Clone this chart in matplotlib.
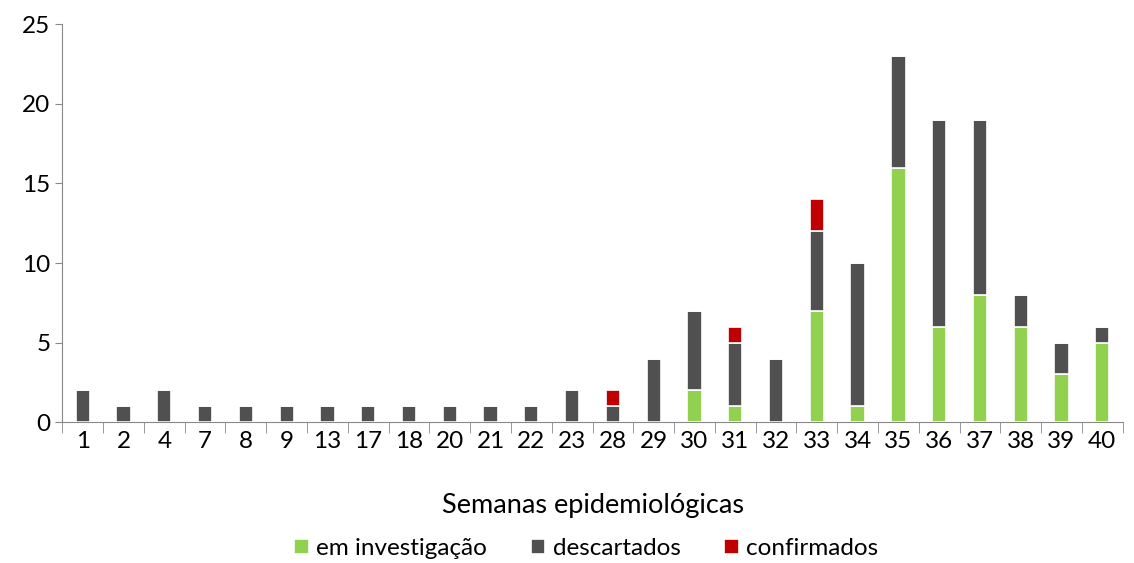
import matplotlib.pyplot as plt
import numpy as np

plt.rcParams['font.family'] = ['Lato', 'DejaVu Sans']

semanas = ['1', '2', '4', '7', '8', '9', '13', '17', '18', '20', '21', '22', '23',
           '28', '29', '30', '31', '32', '33', '34', '35', '36', '37', '38', '39', '40']
em_investigacao = [0, 0, 0, 0, 0, 0, 0, 0, 0, 0, 0, 0, 0,
                   0, 0, 2, 1, 0, 7, 1, 16, 6, 8, 6, 3, 5]
descartados = [2, 1, 2, 1, 1, 1, 1, 1, 1, 1, 1, 1, 2,
               1, 4, 5, 4, 4, 5, 9, 7, 13, 11, 2, 2, 1]
confirmados = [0, 0, 0, 0, 0, 0, 0, 0, 0, 0, 0, 0, 0,
               1, 0, 0, 1, 0, 2, 0, 0, 0, 0, 0, 0, 0]

verde = '#92D050'
cinza = '#505050'
vermelho = '#C00000'

fig, ax = plt.subplots(figsize=(11.34, 5.63), dpi=100)
fig.subplots_adjust(left=0.055, right=0.99, top=0.957, bottom=0.25)

x = np.arange(len(semanas))
w = 0.35
inv = np.array(em_investigacao)
desc = np.array(descartados)
conf = np.array(confirmados)

ax.bar(x, inv, w, color=verde, edgecolor='white', linewidth=1.2, label='em investigação')
ax.bar(x, desc, w, bottom=inv, color=cinza, edgecolor='white', linewidth=1.2, label='descartados')
ax.bar(x, conf, w, bottom=inv + desc, color=vermelho, edgecolor='white', linewidth=1.2, label='confirmados')

ax.set_xlim(-0.5, len(semanas) - 0.5)
ax.set_ylim(0, 25)
ax.set_yticks(range(0, 26, 5))
ax.set_xticks(x)
ax.set_xticklabels(semanas)
ax.set_xticks(np.arange(-0.5, len(semanas)), minor=True)
ax.tick_params(axis='x', which='major', length=0, pad=6, labelsize=17.5)
ax.tick_params(axis='x', which='minor', length=8, color='#888888')
ax.tick_params(axis='y', length=5, color='#888888', labelsize=17.5)

for s in ['top', 'right']:
    ax.spines[s].set_visible(False)
for s in ['left', 'bottom']:
    ax.spines[s].set_color('#888888')

ax.set_xlabel('Semanas epidemiológicas', fontsize=19.5, labelpad=30)

fig.legend(loc='center', bbox_to_anchor=(0.517, 0.026), ncol=3, frameon=False,
           fontsize=17.5, handlelength=0.6, handleheight=0.6, columnspacing=1.8,
           handletextpad=0.3)

fig.savefig('out.png')
